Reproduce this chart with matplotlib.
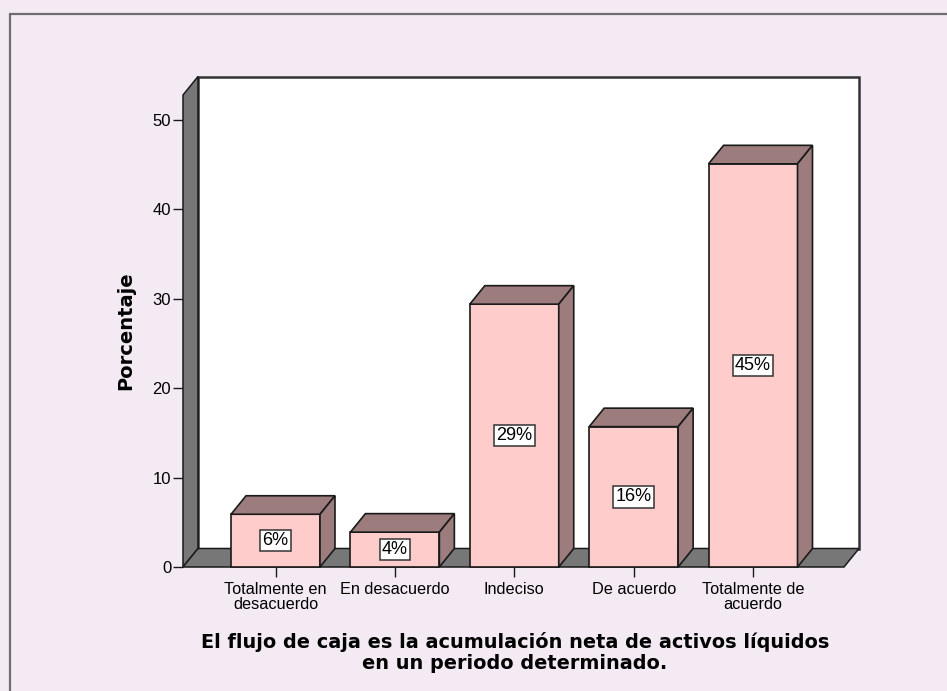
import matplotlib
matplotlib.use("Agg")
import matplotlib.pyplot as plt
from matplotlib.patches import Polygon, Rectangle

# ---- data ----
categories = ["Totalmente en\ndesacuerdo", "En desacuerdo", "Indeciso",
              "De acuerdo", "Totalmente de\nacuerdo"]
percentages = [5.9, 3.9, 29.4, 15.7, 45.1]
bar_labels = ["6%", "4%", "29%", "16%", "45%"]
y_ticks = [0, 10, 20, 30, 40, 50]
y_title = "Porcentaje"
x_title = "El flujo de caja es la acumulación neta de activos líquidos\nen un periodo determinado."

# ---- style ----
BG = "#F4EAF4"
FRONT = "#FFCCCC"
SHADE = "#9C7C7C"
WALL = "#777777"
EDGE = "#1a1a1a"

W, H = 947, 691
fig = plt.figure(figsize=(W / 100, H / 100), dpi=100)
fig.patch.set_facecolor(BG)

ax = fig.add_axes([183 / W, 1 - 567 / H, (844 - 183) / W, (567 - 95) / H])
ax.set_xlim(-0.775, 4.762)
ax.set_ylim(0, 52.8)
ax.patch.set_visible(False)
for s in ax.spines.values():
    s.set_visible(False)

x0, x1 = ax.get_xlim()
y0, y1 = ax.get_ylim()
# depth offset (pixels -> data units)
px_x = ax.bbox.width / (x1 - x0)
px_y = ax.bbox.height / (y1 - y0)
ddx = 15 / px_x
ddy = 18.5 / px_y

# back wall
ax.add_patch(Rectangle((x0 + ddx, ddy), x1 - x0, y1, facecolor="white",
                       edgecolor="#333333", lw=1.8, clip_on=False, zorder=1))
# left wall
ax.add_patch(Polygon([(x0, 0), (x0, y1), (x0 + ddx, y1 + ddy), (x0 + ddx, ddy)],
                     closed=True, facecolor=WALL, edgecolor=EDGE, lw=1.1,
                     clip_on=False, zorder=2))
# floor
ax.add_patch(Polygon([(x0, 0), (x1, 0), (x1 + ddx, ddy), (x0 + ddx, ddy)],
                     closed=True, facecolor=WALL, edgecolor=EDGE, lw=1.1,
                     clip_on=False, zorder=2))

xs = list(range(len(categories)))
bw = 0.745
ax.bar(xs, percentages, width=bw, color=FRONT, edgecolor=EDGE, lw=1.2,
       zorder=4, clip_on=False)
for x, v, lab in zip(xs, percentages, bar_labels):
    l, r = x - bw / 2, x + bw / 2
    ax.add_patch(Polygon([(l, v), (r, v), (r + ddx, v + ddy), (l + ddx, v + ddy)],
                         closed=True, facecolor=SHADE, edgecolor=EDGE, lw=1.2,
                         clip_on=False, zorder=4))
    ax.add_patch(Polygon([(r, 0), (r, v), (r + ddx, v + ddy), (r + ddx, ddy)],
                         closed=True, facecolor=SHADE, edgecolor=EDGE, lw=1.2,
                         clip_on=False, zorder=4))
    ax.text(x, v / 2, lab, ha="center", va="center", fontsize=13,
            family="Liberation Sans", zorder=6,
            bbox=dict(boxstyle="square,pad=0.13", fc="white", ec="#333333", lw=1.1))

ax.set_yticks(y_ticks)
ax.set_xticks(xs)
ax.set_xticklabels(categories, family="Liberation Sans", fontsize=11.7, linespacing=1.0)
for t in ax.get_yticklabels():
    t.set_family("Liberation Sans")
    t.set_fontsize(12)
ax.tick_params(axis="y", direction="out", length=7.5, width=1.0, color=EDGE, pad=1)
ax.tick_params(axis="x", direction="out", length=7.5, width=1.0, color=EDGE, pad=3)

ax.text(-0.087, 0.5, y_title, transform=ax.transAxes, rotation=90,
        ha="center", va="center", fontsize=14, fontweight="bold", family="DejaVu Sans")
ax.text(0.502, -0.181, x_title, transform=ax.transAxes, ha="center", va="center",
        multialignment="center", fontsize=13.9, fontweight="bold", family="DejaVu Sans",
        linespacing=1.12)

# outer frame (cropped on right/bottom)
fig.add_artist(Rectangle((9.5 / W, -0.1), 1.2, (1 - 13.5 / H) + 0.1,
                         transform=fig.transFigure, fill=False,
                         edgecolor="#6e6e6e", lw=1.6))

fig.savefig("out.png", dpi=100, facecolor=BG)
